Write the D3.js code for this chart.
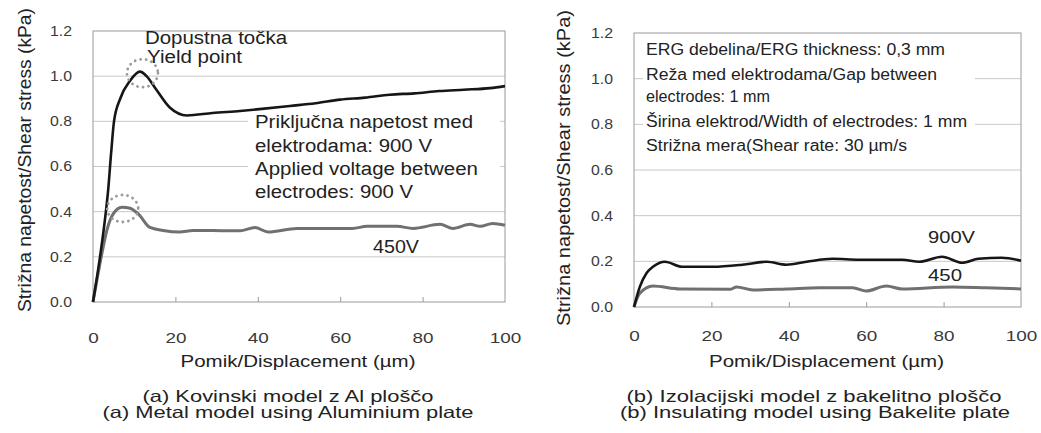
<!DOCTYPE html>
<html>
<head>
<meta charset="utf-8">
<script src="https://cdn.jsdelivr.net/npm/d3@7"></script>
<style>
  body { margin: 0; background: #fff; }
  svg { font-family: "Liberation Sans", Arial, sans-serif; }
  .grid { stroke: #c8c8c8; stroke-width: 1; }
  .frame { fill: none; stroke: #9a9a9a; stroke-width: 1; }
  .tick-lbl { fill: #3a3a3a; }
  .txt { fill: #222; }
</style>
</head>
<body>
<div id="chart"></div>
<script>
// Tick values
const xTicks = [0, 20, 40, 60, 80, 100];
const yTicks = [0, 0.2, 0.4, 0.6, 0.8, 1.0, 1.2];

// (a) Metal model, 900 V
const a900X = [0, 1.7, 3.0, 3.7, 4.4, 5.1, 6.6, 9.0, 11.4, 13, 15, 18.7, 22.8, 29, 35.7, 41, 47.8, 54, 60, 66, 72, 78, 84, 90, 96.4, 100];
const a900Y = [0, 0.2, 0.38, 0.5, 0.66, 0.8, 0.9, 0.98, 1.02, 1.0, 0.95, 0.86, 0.826, 0.837, 0.846, 0.855, 0.868, 0.88, 0.896, 0.905, 0.918, 0.924, 0.934, 0.94, 0.947, 0.956];
// (a) Metal model, 450 V
const a450X = [0, 2, 3.4, 4.9, 7, 9, 11, 13.8, 17, 21, 24.3, 29, 35.7, 39.3, 42.5, 49.5, 63, 66.5, 73.8, 77.7, 84.2, 87.4, 91.5, 94, 97, 100];
const a450Y = [0, 0.2, 0.32, 0.39, 0.42, 0.415, 0.39, 0.33, 0.317, 0.31, 0.317, 0.317, 0.315, 0.33, 0.31, 0.326, 0.326, 0.335, 0.335, 0.326, 0.344, 0.326, 0.344, 0.335, 0.348, 0.34];
// (b) Insulating model, 900 V
const b900X = [0, 1.5, 3.3, 4.9, 8, 12.4, 20.4, 28, 34.3, 39.4, 44.6, 51.3, 58.2, 69.3, 73.7, 79.6, 84.8, 89, 95, 100];
const b900Y = [0, 0.088, 0.15, 0.176, 0.198, 0.176, 0.176, 0.185, 0.198, 0.185, 0.198, 0.211, 0.207, 0.207, 0.198, 0.22, 0.194, 0.211, 0.216, 0.203];
// (b) Insulating model, 450 V
const b450X = [0, 1.5, 4.9, 11.9, 25, 26.5, 30.7, 39.4, 48, 56.5, 60, 65.2, 69.3, 82.2, 91, 100];
const b450Y = [0, 0.06, 0.092, 0.079, 0.078, 0.088, 0.075, 0.079, 0.084, 0.084, 0.07, 0.092, 0.079, 0.088, 0.084, 0.079];

// Yield point markers (x, y) for panel (a)
const yieldX = [12.0, 7.2];
const yieldY = [1.013, 0.414];

const yTitle = "Strižna napetost/Shear stress (kPa)";
const xTitle = "Pomik/Displacement (\u00b5m)";

const svg = d3.select("#chart").append("svg")
    .attr("width", 1041)
    .attr("height", 433);

// stretch a text element horizontally to a given width
function fitText(sel, w) {
    sel.attr("textLength", w).attr("lengthAdjust", "spacingAndGlyphs");
    return sel;
}

function drawPanel(p) {
    const x = d3.scaleLinear().domain([0, 100]).range([p.x0, p.x1]);
    const y = d3.scaleLinear().domain([0, 1.2]).range([p.y0, p.y1]);
    const g = svg.append("g");

    // grid lines
    g.selectAll("line.grid")
        .data(yTicks.slice(1, -1))
        .enter().append("line")
        .attr("class", "grid")
        .attr("x1", p.x0).attr("x2", p.x1)
        .attr("y1", d => y(d)).attr("y2", d => y(d));

    // x axis, small ticks pointing into the plot
    const xAxis = g.append("g")
        .attr("transform", `translate(0,${p.y0})`)
        .call(d3.axisBottom(x).tickValues(xTicks).tickSize(-5).tickPadding(p.xPad).tickFormat(d3.format("d")));
    xAxis.select(".domain").remove();
    xAxis.selectAll("line").attr("stroke", "#9a9a9a").filter(d => d === 0 || d === 100).remove();
    xAxis.selectAll("text")
        .attr("class", "tick-lbl").attr("fill", null)
        .style("font-size", "15px")
        .each(function () {
            fitText(d3.select(this), this.textContent.length * 10.5);
        });

    // y axis labels
    const yAxis = g.append("g")
        .attr("transform", `translate(${p.x0},0)`)
        .call(d3.axisLeft(y).tickValues(yTicks).tickSize(0).tickPadding(21).tickFormat(d3.format(".1f")));
    yAxis.select(".domain").remove();
    fitText(yAxis.selectAll("text")
        .attr("class", "tick-lbl").attr("fill", null)
        .style("font-size", "14px"), 22);

    // frame
    g.append("rect")
        .attr("class", "frame")
        .attr("x", p.x0).attr("y", p.y1)
        .attr("width", p.x1 - p.x0).attr("height", p.y0 - p.y1);

    // axis titles
    fitText(g.append("text")
        .attr("class", "txt")
        .attr("transform", `translate(${p.ytX},${p.ytY}) rotate(-90)`)
        .attr("text-anchor", "middle")
        .style("font-size", "18px")
        .text(yTitle), p.ytW);
    fitText(g.append("text")
        .attr("class", "txt")
        .attr("x", (p.x0 + p.x1) / 2 - 1)
        .attr("y", 367)
        .attr("text-anchor", "middle")
        .style("font-size", "17px")
        .text(xTitle), 235);

    // captions under the panel
    p.captions.forEach((c, i) => {
        fitText(g.append("text")
            .attr("class", "txt")
            .attr("x", c.cx)
            .attr("y", i === 0 ? 402 : 418)
            .attr("text-anchor", "middle")
            .style("font-size", "16.5px")
            .text(c.t), c.w);
    });

    return { g, x, y };
}

const line = (xs, ys, sx, sy) => d3.line()
    .x(i => sx(xs[i]))
    .y(i => sy(ys[i]))
    .curve(d3.curveMonotoneX)(d3.range(xs.length));

// ---------- Panel (a)
const A = drawPanel({
    x0: 93, x1: 505, y0: 302, y1: 31, xPad: 30,
    ytX: 31, ytY: 160, ytW: 304,
    captions: [
        { t: "(a) Kovinski model z Al ploščo", cx: 288, w: 291 },
        { t: "(a) Metal model using Aluminium plate", cx: 288, w: 371 }
    ]
});

// white box behind the voltage note
A.g.append("rect")
    .attr("x", 248).attr("y", 110).attr("width", 252).attr("height", 92)
    .attr("fill", "#fff");

A.g.append("path")
    .attr("d", line(a450X, a450Y, A.x, A.y))
    .attr("fill", "none").attr("stroke", "#707070").attr("stroke-width", 3);
A.g.append("path")
    .attr("d", line(a900X, a900Y, A.x, A.y))
    .attr("fill", "none").attr("stroke", "#161616").attr("stroke-width", 2.6);

// dotted circles round the yield points
A.g.selectAll("ellipse")
    .data(d3.range(yieldX.length))
    .enter().append("ellipse")
    .attr("cx", i => A.x(yieldX[i]))
    .attr("cy", i => A.y(yieldY[i]))
    .attr("rx", 15.5).attr("ry", i => i === 0 ? 14 : 13.5)
    .attr("fill", "none")
    .attr("stroke", "#9a9a9a")
    .attr("stroke-width", 2.8)
    .attr("stroke-linecap", "round")
    .attr("stroke-dasharray", "0.1,5.5");

const noteA = [
    { t: "Dopustna točka", x: 145, y: 44, w: 142 },
    { t: "Yield point", x: 147, y: 63, w: 95 },
    { t: "Priključna napetost med", x: 255, y: 128, w: 218 },
    { t: "elektrodama: 900 V", x: 255, y: 152, w: 177 },
    { t: "Applied voltage between", x: 255, y: 175, w: 223 },
    { t: "electrodes: 900 V", x: 255, y: 198, w: 158 },
    { t: "450V", x: 373, y: 253, w: 46 }
];
noteA.forEach(n => fitText(A.g.append("text")
    .attr("class", "txt")
    .attr("x", n.x).attr("y", n.y)
    .style("font-size", "18px")
    .text(n.t), n.w));

// ---------- Panel (b)
const B = drawPanel({
    x0: 634, x1: 1021, y0: 307, y1: 33, xPad: 23,
    ytX: 570, ytY: 168, ytW: 316,
    captions: [
        { t: "(b) Izolacijski model z bakelitno ploščo", cx: 814, w: 375 },
        { t: "(b) Insulating model using Bakelite plate", cx: 815, w: 390 }
    ]
});

// white box behind the test conditions
B.g.append("rect")
    .attr("x", 643).attr("y", 38).attr("width", 332).attr("height", 124)
    .attr("fill", "#fff");

B.g.append("path")
    .attr("d", line(b450X, b450Y, B.x, B.y))
    .attr("fill", "none").attr("stroke", "#707070").attr("stroke-width", 3);
B.g.append("path")
    .attr("d", line(b900X, b900Y, B.x, B.y))
    .attr("fill", "none").attr("stroke", "#161616").attr("stroke-width", 2.6);

const noteB = [
    { t: "ERG debelina/ERG thickness: 0,3 mm", x: 646, y: 55, w: 299, fs: 16 },
    { t: "Reža med elektrodama/Gap between", x: 646, y: 80, w: 291, fs: 16 },
    { t: "electrodes: 1 mm", x: 646, y: 102, w: 124, fs: 16 },
    { t: "Širina elektrod/Width of electrodes: 1 mm", x: 646, y: 127, w: 321, fs: 16 },
    { t: "Strižna mera(Shear rate: 30 \u00b5m/s", x: 646, y: 151, w: 261, fs: 16 },
    { t: "900V", x: 928, y: 243, w: 47, fs: 17 },
    { t: "450", x: 928, y: 281, w: 34, fs: 17 }
];
noteB.forEach(n => fitText(B.g.append("text")
    .attr("class", "txt")
    .attr("x", n.x).attr("y", n.y)
    .style("font-size", n.fs + "px")
    .text(n.t), n.w));
</script>
</body>
</html>
